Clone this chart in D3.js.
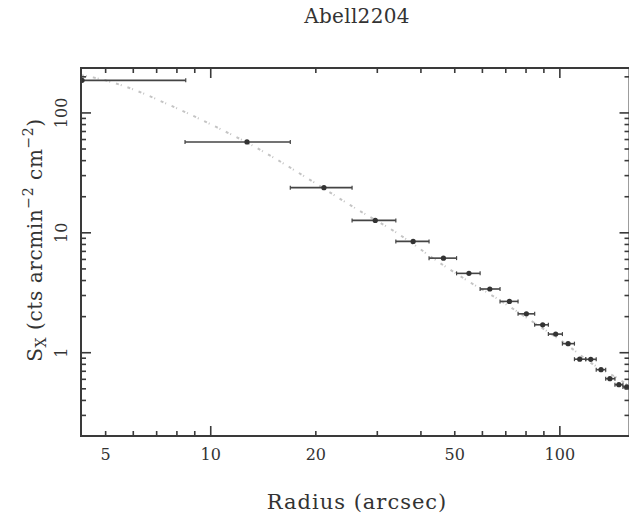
<!DOCTYPE html>
<html>
<head>
<meta charset="utf-8">
<script src="https://cdn.jsdelivr.net/npm/d3@7"></script>
<style>
  body { margin: 0; background: #fff; }
  text { font-family: "DejaVu Serif", serif; fill: #333; }
</style>
</head>
<body>
<div id="chart"></div>
<script>
// Radial surface brightness profile
const radius   = [4.28, 12.7, 21.1, 29.6, 38.0, 46.4, 54.9, 63.0, 71.7, 80.2, 89.3, 97.3, 105.6, 114.0, 122.6, 131.2, 139.1, 147.6, 155.4];
const radLow   = [2.0, 8.44, 16.9, 25.4, 33.9, 42.2, 50.6, 59.1, 67.4, 75.9, 84.7, 92.7, 101.7, 110.1, 118.6, 127.1, 135.3, 143.8, 151.6];
const radHigh  = [8.48, 16.9, 25.4, 33.9, 42.2, 50.6, 59.1, 67.4, 75.9, 84.7, 92.7, 101.7, 110.1, 118.6, 127.1, 135.3, 143.8, 151.6, 163];
const sx       = [187, 57.3, 23.8, 12.7, 8.48, 6.15, 4.59, 3.40, 2.68, 2.11, 1.71, 1.43, 1.19, 0.883, 0.881, 0.722, 0.607, 0.541, 0.518];

// Model curve (dotted grey)
const modelR  = [4.25, 4.6, 5.76, 7.64, 10.4, 13.6, 19.3, 25.1, 34.2, 46.3, 54.6, 65.7, 82.2, 102, 128, 146, 158];
const modelSx = [206, 198, 164, 116, 76.0, 50.8, 27.5, 17.0, 9.94, 5.38, 3.96, 2.86, 1.87, 1.23, 0.76, 0.615, 0.528];

const xTickLabels = [5, 10, 20, 50, 100];
const yTickLabels = [1, 10, 100];

const width = 629, height = 516;
const plotL = 81, plotR = 629.5, plotT = 68, plotB = 436;
const axisColor = "#3a3a3a";

const svg = d3.select("#chart").append("svg")
    .attr("width", width)
    .attr("height", height);

const x = d3.scaleLog().domain([4.25, 158.3]).range([plotL, plotR]);
const y = d3.scaleLog().domain([0.202, 237]).range([plotB, plotT]);

svg.append("clipPath").attr("id", "clip")
  .append("rect")
    .attr("x", plotL).attr("y", plotT)
    .attr("width", plotR - plotL).attr("height", plotB - plotT);

const plot = svg.append("g").attr("clip-path", "url(#clip)");

// Model line
const modelData = modelR.map((r, i) => ({ r, s: modelSx[i] }));
plot.append("path")
    .datum(modelData)
    .attr("fill", "none")
    .attr("stroke", "#c4c4c4")
    .attr("stroke-width", 2)
    .attr("stroke-dasharray", "3,2,1,6")
    .attr("d", d3.line().x(d => x(d.r)).y(d => y(d.s)).curve(d3.curveMonotoneX));

// Data with horizontal error bars
const data = radius.map((r, i) => ({ r, lo: radLow[i], hi: radHigh[i], s: sx[i] }));
const pts = plot.selectAll("g.pt").data(data).enter().append("g").attr("class", "pt");

pts.append("line")
    .attr("x1", d => x(d.lo)).attr("x2", d => x(d.hi))
    .attr("y1", d => y(d.s)).attr("y2", d => y(d.s))
    .attr("stroke", "#444").attr("stroke-width", 1.6);

pts.selectAll("line.cap")
    .data(d => [[d.lo, d.s], [d.hi, d.s]])
    .enter().append("line")
    .attr("class", "cap")
    .attr("x1", d => x(d[0])).attr("x2", d => x(d[0]))
    .attr("y1", d => y(d[1]) - 2).attr("y2", d => y(d[1]) + 2)
    .attr("stroke", "#444").attr("stroke-width", 1.2);

pts.append("circle")
    .attr("cx", d => x(d.r)).attr("cy", d => y(d.s))
    .attr("r", 2.6)
    .attr("fill", "#333");

// Axes: ticks inward on all four sides
const xMajor = [10, 100];
const xMinor = x.ticks().filter(v => !xMajor.includes(v));
const yMajor = [1, 10, 100];
const yMinor = y.ticks().filter(v => !yMajor.includes(v));

function tickLines(g, vals, scale, len, horizontal) {
    vals.forEach(v => {
        const p = scale(v);
        if (horizontal) {
            g.append("line").attr("x1", p).attr("x2", p).attr("y1", plotB).attr("y2", plotB - len);
            g.append("line").attr("x1", p).attr("x2", p).attr("y1", plotT).attr("y2", plotT + len);
        } else {
            g.append("line").attr("y1", p).attr("y2", p).attr("x1", plotL).attr("x2", plotL + len);
            g.append("line").attr("y1", p).attr("y2", p).attr("x1", plotR).attr("x2", plotR - len);
        }
    });
}

const axes = svg.append("g").attr("stroke", axisColor).attr("stroke-width", 1.6);
tickLines(axes, xMinor.filter(v => v > 4.25 && v < 158), x, 5, true);
tickLines(axes, xMajor, x, 10, true);
tickLines(axes, yMinor.filter(v => v > 0.202 && v < 237), y, 5, false);
tickLines(axes, yMajor, y, 10, false);

axes.append("rect")
    .attr("x", plotL).attr("y", plotT)
    .attr("width", plotR - plotL).attr("height", plotB - plotT)
    .attr("fill", "none")
    .attr("stroke-width", 2);

// Tick labels
svg.selectAll("text.xl").data(xTickLabels).enter().append("text")
    .attr("x", d => x(d))
    .attr("y", 460)
    .attr("text-anchor", "middle")
    .style("font-size", "16px")
    .text(d => d);

svg.selectAll("text.yl").data(yTickLabels).enter().append("text")
    .attr("transform", d => `translate(67, ${y(d)}) rotate(-90)`)
    .attr("text-anchor", "middle")
    .style("font-size", "16px")
    .text(d => d);

// Title
svg.append("text")
    .attr("x", 357).attr("y", 23)
    .attr("text-anchor", "middle")
    .style("font-size", "20px")
    .style("letter-spacing", "0.3px")
    .text("Abell2204");

// X label
svg.append("text")
    .attr("x", 357).attr("y", 509)
    .attr("text-anchor", "middle")
    .style("font-size", "21px")
    .style("letter-spacing", "1px")
    .text("Radius (arcsec)");

// Y label
const yl = svg.append("text")
    .attr("transform", "translate(42, 240) rotate(-90)")
    .attr("text-anchor", "middle")
    .style("font-size", "20px")
    .style("letter-spacing", "0.6px");
yl.append("tspan").text("S");
yl.append("tspan").attr("dy", 4).style("font-size", "14px").text("X");
yl.append("tspan").attr("dy", -4).text(" (cts arcmin");
yl.append("tspan").attr("dy", -9).style("font-size", "14px").text("−2");
yl.append("tspan").attr("dy", 9).text(" cm");
yl.append("tspan").attr("dy", -9).style("font-size", "14px").text("−2");
yl.append("tspan").attr("dy", 9).text(")");
</script>
</body>
</html>
